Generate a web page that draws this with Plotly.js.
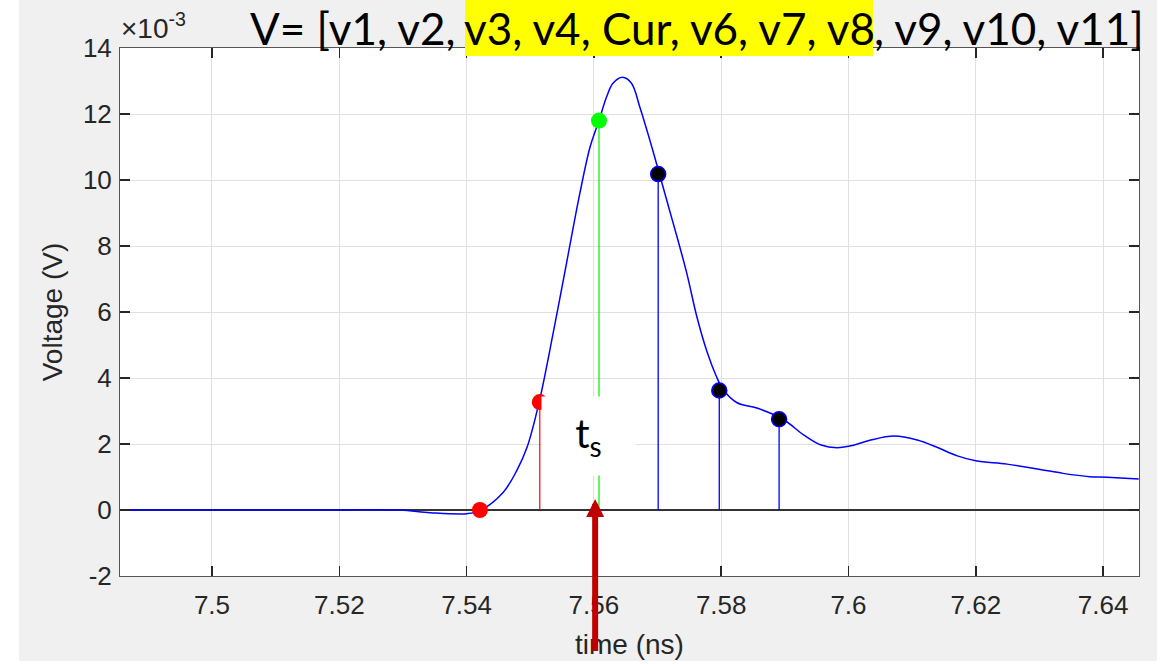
<!DOCTYPE html>
<html><head><meta charset="utf-8">
<script src="https://cdn.plot.ly/plotly-3.0.1.min.js"></script>
<style>html,body{margin:0;padding:0;background:#fff;overflow:hidden}#chart{width:1166px;height:664px}</style>
</head><body><div id="chart"></div>
<script>
// Waveform (time in ns, voltage in units of 1e-3 V)
const timeNs = [7.48555, 7.5185, 7.5295, 7.5343, 7.5401, 7.5421, 7.5457, 7.5479, 7.5495, 7.5514, 7.5536, 7.5558, 7.5578, 7.5594, 7.5608, 7.5620, 7.5630, 7.5645, 7.5659, 7.5672, 7.5688, 7.5703, 7.5717, 7.5731, 7.5746, 7.5762, 7.5778, 7.5792, 7.5803, 7.5825, 7.5856, 7.5897, 7.5930, 7.5957, 7.5982, 7.6009, 7.6035, 7.6072, 7.6108, 7.6139, 7.6171, 7.6200, 7.6249, 7.6301, 7.6337, 7.6379, 7.6406, 7.6456];
const voltage = [0, 0, 0, -0.08, -0.11, -0.02, 0.52, 1.2, 1.9, 3.27, 5.36, 7.58, 9.6, 11.0, 11.8, 12.52, 12.93, 13.11, 12.93, 12.22, 11.2, 10.18, 9.21, 8.25, 7.17, 5.84, 4.78, 4.07, 3.65, 3.25, 3.09, 2.75, 2.27, 1.97, 1.89, 1.97, 2.12, 2.24, 2.12, 1.9, 1.64, 1.49, 1.39, 1.23, 1.11, 1.01, 0.99, 0.94];

// Sample points
const redT = [7.5421, 7.5515];
const redV = [0, 3.27];
const greenT = [7.5608];
const greenV = [11.8];
const blackT = [7.5701, 7.5797, 7.5891];
const blackV = [10.18, 3.62, 2.75];
const tsTime = 7.5602;

// Ticks
const yTickVals = [-2, 0, 2, 4, 6, 8, 10, 12, 14];
const yTickText = ["-2", "0", "2", "4", "6", "8", "10", "12", "14"];

// Text
const titlePre = "V= [v1, v2,";
const titleMid = "v3, v4, Cur, v6, v7, v8";
const titleSuf = ", v9, v10, v11]";
const xTitle = "time (ns)";
const yTitle = "Voltage (V)";
const expLabel = "\u00d710<sup>-3</sup>";
const tsLabel = "t<sub>s</sub>";

const xRange = [7.48555, 7.64564];
const yRange = [-2, 14];

function stems(t, v) {
  const x = [], y = [];
  for (let i = 0; i < t.length; i++) { x.push(t[i], t[i], null); y.push(0, v[i], null); }
  return {x, y};
}

// pixel helpers for overlay text (plot area: x 120..1139, y 48..576)
const PL = 120, PR = 1139, PT = 48, PB = 576;
const px = p => (p - PL) / (PR - PL);
const py = p => (PB - p) / (PB - PT);

const sR = stems(redT, redV), sG = stems(greenT, greenV), sB = stems(blackT, blackV);

const traces = [
  {x: timeNs, y: voltage, type: 'scatter', mode: 'lines', line: {color: '#0000ff', width: 1.5, shape: 'spline', smoothing: 1}, hoverinfo: 'skip'},
  {x: sR.x, y: sR.y, type: 'scatter', mode: 'lines', line: {color: '#ff0000', width: 1.2}},
  {x: sG.x, y: sG.y, type: 'scatter', mode: 'lines', line: {color: '#00ee00', width: 1.2}},
  {x: sB.x, y: sB.y, type: 'scatter', mode: 'lines', line: {color: '#0000ff', width: 1.3}},
  {x: redT, y: redV, type: 'scatter', mode: 'markers', marker: {color: '#ff0000', size: 16}},
  {x: greenT, y: greenV, type: 'scatter', mode: 'markers', marker: {color: '#00ff00', size: 16}},
  {x: blackT, y: blackV, type: 'scatter', mode: 'markers', marker: {color: '#000000', size: 15, line: {color: '#0000ff', width: 1.5}}}
];

const tickFont = {family: 'Liberation Sans, Arial, sans-serif', size: 26, color: '#262626'};
const titleFont = {family: 'Liberation Sans, Arial, sans-serif', size: 28, color: '#262626'};
const bigFont = {family: 'Lato, sans-serif', size: 44, color: '#000000'};

const axisCommon = {
  ticks: 'inside', ticklen: 10, tickwidth: 1.5, tickcolor: '#262626',
  showline: true, linecolor: '#555555', linewidth: 1, mirror: 'ticks',
  showgrid: true, gridcolor: '#e0e0e0', gridwidth: 1,
  tickfont: tickFont
};

const layout = {
  width: 1166, height: 664,
  margin: {l: PL, r: 1166 - PR, t: PT, b: 664 - PB},
  paper_bgcolor: '#f0f0f0', plot_bgcolor: '#ffffff',
  showlegend: false,
  xaxis: Object.assign({}, axisCommon, {range: xRange, tick0: 7.5, dtick: 0.02, zeroline: false, ticklabelstandoff: 6,
    title: {text: xTitle, font: titleFont, standoff: 15}}),
  yaxis: Object.assign({}, axisCommon, {range: yRange, tickmode: 'array', tickvals: yTickVals, ticktext: yTickText,
    zeroline: true, zerolinecolor: '#333333', zerolinewidth: 1.5, ticklabelstandoff: 2,
    title: {text: yTitle, font: titleFont, standoff: 12}}),
  shapes: [
    {type: 'rect', xref: 'paper', yref: 'paper', x0: px(465), x1: px(873), y0: py(56), y1: py(0), fillcolor: '#ffff00', line: {width: 0}, layer: 'above'},
    {type: 'rect', xref: 'paper', yref: 'paper', x0: px(0), x1: px(19), y0: py(664), y1: py(0), fillcolor: '#ffffff', line: {width: 0}, layer: 'below'},
    {type: 'rect', xref: 'paper', yref: 'paper', x0: px(1157), x1: px(1166), y0: py(664), y1: py(0), fillcolor: '#ffffff', line: {width: 0}, layer: 'below'},
    {type: 'rect', xref: 'paper', yref: 'paper', x0: px(0), x1: px(1166), y0: py(664), y1: py(661), fillcolor: '#ffffff', line: {width: 0}, layer: 'below'}
  ],
  annotations: [
    {text: expLabel, xref: 'paper', yref: 'paper', x: px(120), y: py(45), xanchor: 'left', yanchor: 'bottom', showarrow: false,
     font: {family: 'Liberation Sans, Arial, sans-serif', size: 28, color: '#262626'}, borderpad: 0},
    {text: titlePre, xref: 'paper', yref: 'paper', x: px(456), y: py(28), xanchor: 'right', yanchor: 'middle', showarrow: false, font: bigFont, borderpad: 0},
    {text: titleMid, xref: 'paper', yref: 'paper', x: px(669), y: py(28), xanchor: 'center', yanchor: 'middle', showarrow: false, font: bigFont, borderpad: 0},
    {text: titleSuf, xref: 'paper', yref: 'paper', x: px(873), y: py(28), xanchor: 'left', yanchor: 'middle', showarrow: false, font: bigFont, borderpad: 0},
    {text: tsLabel, xref: 'x', yref: 'y', x: 7.55915, y: 2.24, showarrow: false, bgcolor: '#ffffff', width: 93, height: 78, borderpad: 0,
     font: {family: 'Lato, sans-serif', size: 40, color: '#000000'}},
    {text: ' ', xref: 'x', yref: 'y', x: tsTime, y: 0.33, showarrow: true, ax: 0, ay: 162, axref: 'pixel', ayref: 'pixel',
     arrowcolor: '#c00000', arrowwidth: 6, arrowhead: 2, arrowsize: 0.6, standoff: 0, startstandoff: 0}
  ]
};

Plotly.newPlot('chart', traces, layout, {displayModeBar: false, staticPlot: true});
</script>
</body></html>
